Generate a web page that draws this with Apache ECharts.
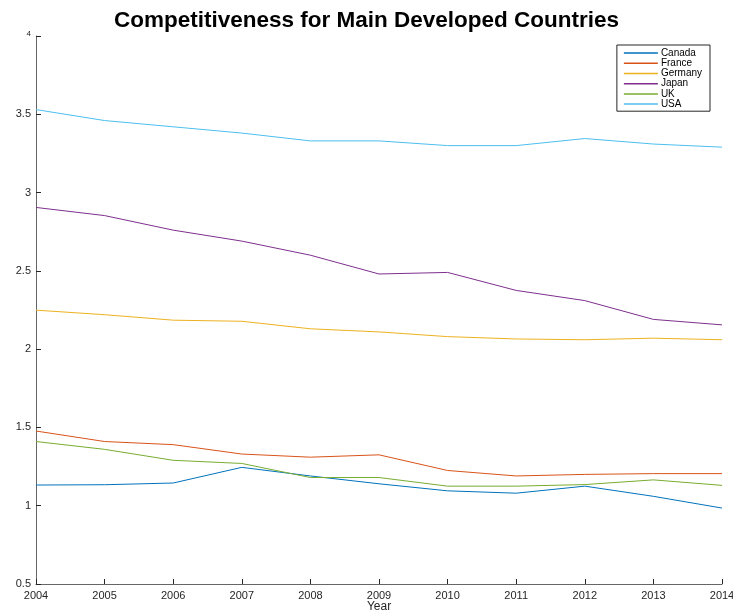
<!DOCTYPE html>
<html>
<head>
<meta charset="utf-8">
<script src="https://cdn.jsdelivr.net/npm/echarts@6/dist/echarts.min.js"></script>
<style>html,body{margin:0;padding:0;background:#fff}#c{width:733px;height:615px}</style>
</head>
<body>
<div id="c"></div>
<script>
const years = [2004, 2005, 2006, 2007, 2008, 2009, 2010, 2011, 2012, 2013, 2014];
const countries = ["Canada", "France", "Germany", "Japan", "UK", "USA"];
const canada  = [1.132, 1.134, 1.145, 1.245, 1.19, 1.14, 1.095, 1.08, 1.125, 1.06, 0.985];
const france  = [1.477, 1.41, 1.39, 1.33, 1.31, 1.325, 1.225, 1.19, 1.2, 1.205, 1.205];
const germany = [2.249, 2.22, 2.185, 2.178, 2.13, 2.11, 2.08, 2.065, 2.06, 2.07, 2.06];
const japan   = [2.905, 2.853, 2.76, 2.69, 2.6, 2.48, 2.49, 2.375, 2.31, 2.19, 2.155];
const uk      = [1.41, 1.36, 1.29, 1.27, 1.18, 1.18, 1.125, 1.125, 1.135, 1.165, 1.13];
const usa     = [3.53, 3.46, 3.42, 3.38, 3.33, 3.33, 3.30, 3.30, 3.345, 3.31, 3.29];
const seriesValues = [canada, france, germany, japan, uk, usa];
const colors = ["#0072BD", "#D95319", "#EDB120", "#7E2F8E", "#77AC30", "#4DBEEE"];

const chart = echarts.init(document.getElementById('c'));
const font = "'Liberation Sans', Arial, Helvetica, sans-serif";
chart.setOption({
  animation: false,
  color: colors,
  title: {
    text: "Competitiveness for Main Developed Countries",
    left: 'center', top: 4,
    textStyle: { fontFamily: font, fontSize: 22.5, fontWeight: 'bold', color: '#000' }
  },
  legend: {
    orient: 'vertical',
    right: 23, top: 45,
    data: countries,
    icon: 'rect',
    itemWidth: 34, itemHeight: 1.5, itemGap: 0,
    backgroundColor: '#fff',
    borderColor: '#262626', borderWidth: 1, borderRadius: 0,
    padding: [3, 8, 2, 7],
    textStyle: { fontFamily: font, fontSize: 10, lineHeight: 10.2, color: '#000', padding: [0, 0, 0, -2] }
  },
  grid: { left: 36, right: 11, top: 36, bottom: 31, containLabel: false, outerBoundsMode: 'none' },
  xAxis: {
    type: 'value', min: 2004, max: 2014, interval: 1,
    name: 'Year', nameLocation: 'middle', nameGap: 17, nameMoveOverlap: false,
    nameTextStyle: { fontFamily: font, fontSize: 12, color: '#262626', verticalAlign: 'top', lineHeight: 12 },
    axisLine: { show: true, lineStyle: { color: '#666', width: 1 } },
    axisTick: { show: true, inside: true, length: 5, lineStyle: { color: '#262626' } },
    axisLabel: { fontFamily: font, fontSize: 11, color: '#262626', margin: 6, formatter: v => String(v) },
    splitLine: { show: false }
  },
  yAxis: {
    type: 'value', min: 0.5, max: 4, interval: 0.5,
    axisLine: { show: true, lineStyle: { color: '#666', width: 1 } },
    axisTick: { show: true, inside: true, length: 5, lineStyle: { color: '#262626' } },
    axisLabel: {
      fontFamily: font, fontSize: 11, color: '#262626', margin: 5,
      formatter: v => v === 4 ? '{s|4}' : String(v),
      rich: { s: { fontFamily: font, fontSize: 8, color: '#262626', padding: [0, 0, 4, 0] } }
    },
    splitLine: { show: false }
  },
  series: countries.map((name, i) => ({
    name: name,
    type: 'line',
    data: years.map((y, j) => [y, seriesValues[i][j]]),
    symbol: 'none',
    lineStyle: { width: 1, color: colors[i] },
    itemStyle: { color: colors[i] }
  }))
});
</script>
</body>
</html>
